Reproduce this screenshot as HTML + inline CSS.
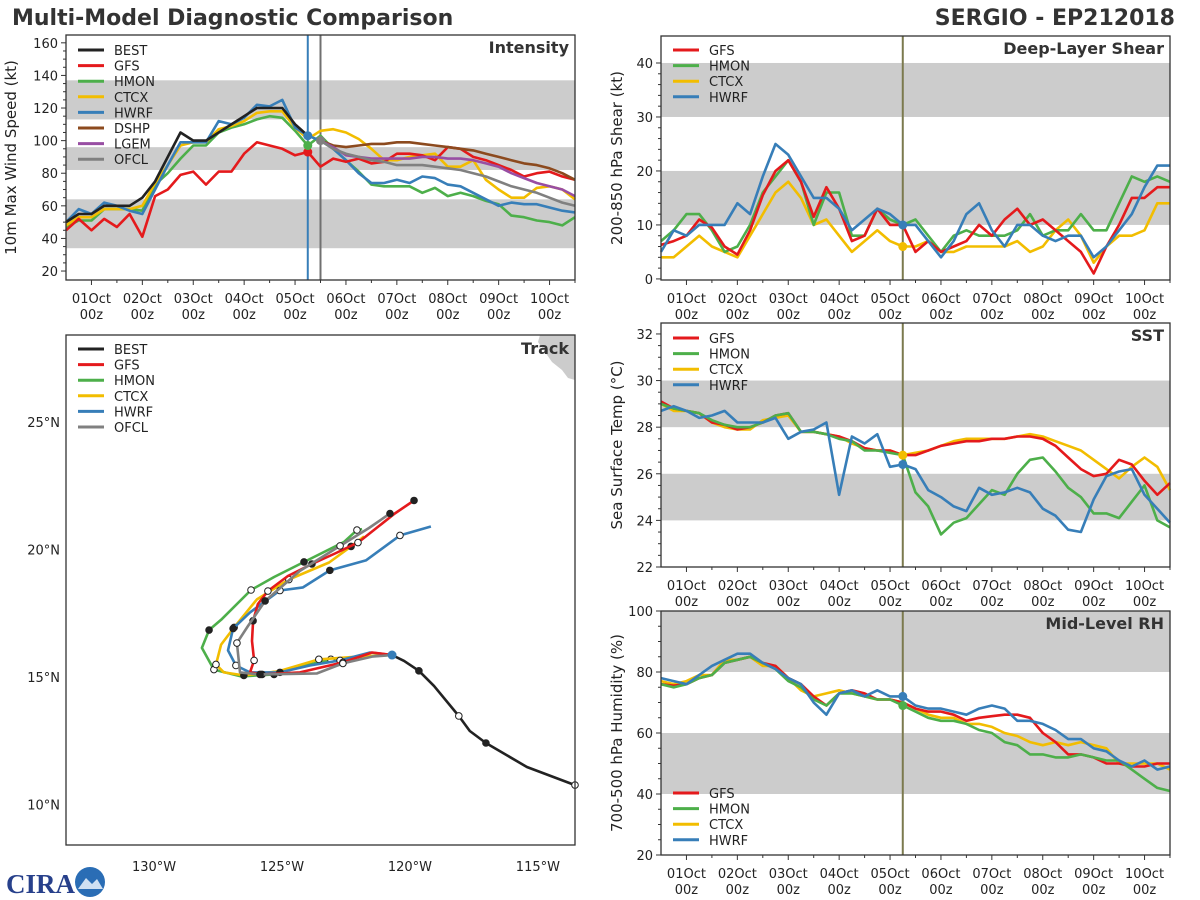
<!DOCTYPE html>
<html><head><meta charset="utf-8">
<style>
html,body{margin:0;padding:0;background:#fff;}
svg{display:block;font-family:"DejaVu Sans","Liberation Sans",sans-serif;}
</style></head>
<body>
<svg id="chart" width="1200" height="900" viewBox="0 0 1200 900" xmlns="http://www.w3.org/2000/svg">
<text x="12" y="25" font-size="22" font-weight="bold" fill="#333">Multi-Model Diagnostic Comparison</text>
<text x="1175" y="25" font-size="22" font-weight="bold" fill="#333" text-anchor="end">SERGIO - EP212018</text>
<g>
<text x="6" y="893" font-size="27" font-weight="bold" fill="#27408b" font-family="Liberation Serif, serif">CIRA</text>
<circle cx="90" cy="882" r="15" fill="#2a6db5"/>
<path d="M78,889 L86,878 L92,884 L97,879 L103,889 Z" fill="#cfe0f2"/>
</g>
<g id="plots"></g>
</svg>
<script>
// ---------- data ----------
const dayLabels = ["01Oct","02Oct","03Oct","04Oct","05Oct","06Oct","07Oct","08Oct","09Oct","10Oct"];
const intensityBest = [50,55,55,60,60,60,65,75,90,105,100,100,105,110,115,120,120,120,110,103];
const intensityGFS = [45,52,45,52,47,55,41,66,70,79,81,73,81,81,92,99,97,95,91,93,84,89,87,89,86,87,92,92,91,88,96,95,90,88,85,82,78,80,81,78,76];
const intensityHMON = [47,51,51,58,58,58,57,73,80,89,97,97,105,108,110,113,115,114,106,97,103,95,88,81,73,72,72,72,68,71,66,68,66,63,61,54,53,51,50,48,53];
const intensityCTCX = [48,53,53,58,58,58,60,74,85,97,99,99,107,109,112,117,118,118,108,101,106,107,105,101,95,88,88,90,91,92,84,84,88,76,70,65,65,71,72,70,64];
const intensityHWRF = [50,58,55,62,60,57,55,70,85,99,99,99,112,110,114,122,121,125,108,103,100,95,88,80,74,74,76,74,78,77,73,72,68,64,60,62,61,61,59,57,56];
const intensityDSHP = [100,97,96,97,98,98,99,99,98,97,96,95,94,92,90,88,86,85,83,80,76];
const intensityLGEM = [100,96,91,90,89,89,89,89,90,90,89,89,88,86,84,80,77,74,72,70,66];
const intensityOFCL = [100,95,92,90,88,87,85,85,85,84,83,82,80,78,75,72,70,68,65,62,60];

const shearGFS = [6.3,7,8,11,9.5,6,4.5,9,15.5,20,22,18,11.5,17,13,7,8,13,10,10,5,7,5,6,7,10,8,11,13,10,11,9,7,5,1,6,10,15,15,17,17];
const shearHMON = [7,9,12,12,9,5,6,10,16,19,22,18,10,16,16,8,8,13,11,10,11,8,5,8,9,8,8,8,9,12,8,9,9,12,9,9,14,19,18,19,18];
const shearCTCX = [4,4,6,8,6,5,4,8,12,16,18,15,10,11,8,5,7,9,7,6,6,7,5,5,6,6,6,6,7,5,6,9,11,8,3,6,8,8,9,14,14];
const shearHWRF = [5,9,8,10,10,10,14,12,19,25,23,19,15,15,13,9,11,13,12,10,10,7,4,7,12,14,9,6,10,10,8,7,8,8,4,6,9,12,17,21,21];

const sstGFS = [29.1,28.8,28.7,28.6,28.2,28.1,27.9,28.0,28.2,28.5,28.6,27.8,27.8,27.7,27.6,27.4,27.1,27.0,27.0,26.8,26.8,27.0,27.2,27.3,27.4,27.4,27.5,27.5,27.6,27.6,27.5,27.2,26.7,26.2,25.9,26.0,26.6,26.4,25.7,25.1,25.6];
const sstHMON = [29.0,28.8,28.7,28.6,28.3,28.1,28.0,28.0,28.2,28.5,28.6,27.8,27.8,27.7,27.5,27.4,27.0,27.0,26.9,26.8,25.2,24.6,23.4,23.9,24.1,24.7,25.3,25.1,26.0,26.6,26.7,26.1,25.4,25.0,24.3,24.3,24.1,24.8,25.5,24.0,23.7];
const sstCTCX = [29.0,28.7,28.7,28.6,28.2,28.0,27.9,27.9,28.3,28.4,28.5,27.8,27.8,27.7,27.6,27.3,27.1,27.0,27.0,26.8,26.9,27.0,27.2,27.4,27.5,27.5,27.5,27.5,27.6,27.7,27.6,27.4,27.2,27.0,26.6,26.2,25.8,26.3,26.7,26.3,25.3];
const sstHWRF = [28.7,28.9,28.7,28.4,28.5,28.7,28.2,28.2,28.2,28.4,27.5,27.8,27.9,28.2,25.1,27.6,27.3,27.7,26.3,26.4,26.2,25.3,25.0,24.6,24.4,25.4,25.1,25.2,25.4,25.2,24.5,24.2,23.6,23.5,24.9,25.9,26.1,26.2,25.1,24.5,23.9];

const rhGFS = [76,75.5,76,78,79,83,84,85,83,82,78,76,72,69,73,74,73,71,71,70,68,67,67,66,64,65,65.5,66,66,65,60,57,53,53,52,50,50,49,49,50,50];
const rhHMON = [76,75,76,78,79,83,84,85,83,81,77,75,71,69,73,73,72,71,71,69,67,65,64,64,63,61,60,57,56,53,53,52,52,53,52,51,51,48,45,42,41];
const rhCTCX = [77,76,77,79,79,84,84,85,82,82,78,74,72,73,74,73,72,71,71,70,68,66,65,65,63,63,62,60,59,57,56,57,56,57,56,55,50,50,50,50,48];
const rhHWRF = [78,77,76,79,82,84,86,86,83,81,78,76,70,66,73,74,72,74,72,72,69,68,68,67,66,68,69,68,64,64,63,61,58,58,55,54,51,49,51,48,49];

const trackBestLon = [-113.55,-115.43,-117.03,-117.66,-118.09,-119.06,-119.65,-120.23,-120.70];
const trackBestLat = [10.76,11.47,12.41,12.88,13.47,14.65,15.24,15.63,15.86];
const trackGFSLon = [-120.70,-121.48,-122.62,-124.30,-125.78,-126.25,-126.09,-126.17,-126.13,-125.94,-125.55,-124.77,-123.83,-122.93,-122.03,-120.59,-119.84];
const trackGFSLat = [15.86,15.96,15.57,15.18,15.10,15.18,15.65,16.41,17.20,17.86,18.37,18.96,19.43,19.84,20.27,21.41,21.92];
const trackHMONLon = [-120.70,-121.80,-123.09,-124.26,-125.31,-126.60,-127.66,-128.13,-127.85,-127.38,-126.21,-125.31,-124.14,-122.58,-122.07,-121.87];
const trackHMONLat = [15.86,15.80,15.69,15.41,15.10,15.02,15.29,16.14,16.84,17.24,18.41,18.92,19.51,20.29,20.76,20.80];
const trackCTCXLon = [-120.70,-122.00,-123.56,-125.13,-126.49,-127.27,-127.58,-127.38,-126.87,-125.98,-124.73,-123.16,-122.30,-121.79];
const trackCTCXLat = [15.86,15.80,15.69,15.22,15.06,15.18,15.49,16.27,16.94,18.04,18.82,19.49,20.12,20.51];
const trackHWRFLon = [-120.70,-121.56,-122.73,-123.91,-125.08,-126.25,-126.80,-127.11,-126.91,-126.25,-125.08,-124.18,-123.13,-121.72,-120.39,-119.18];
const trackHWRFLat = [15.86,15.96,15.65,15.45,15.18,15.18,15.45,16.04,16.90,17.53,18.39,18.51,19.18,19.57,20.55,20.90];
const trackOFCLLon = [-120.70,-121.48,-122.62,-123.63,-125.86,-126.64,-126.76,-126.33,-125.66,-124.30,-122.73,-121.60,-120.78];
const trackOFCLLat = [15.86,15.80,15.53,15.14,15.10,15.18,16.33,17.00,17.98,19.16,20.14,20.84,21.41];
const mapLonTicks = [-130,-125,-120,-115];
const mapLatTicks = [10,15,20,25];

// ---------- helpers ----------
const NS = "http://www.w3.org/2000/svg";
const root = document.getElementById("plots");
function mk(tag, attrs, parent) {
  const e = document.createElementNS(NS, tag);
  for (const k in attrs) e.setAttribute(k, attrs[k]);
  (parent || root).appendChild(e);
  return e;
}
const C = {BEST:"#222222",GFS:"#e41a1c",HMON:"#4daf4a",CTCX:"#f2bd00",HWRF:"#377eb8",DSHP:"#8c4a1e",LGEM:"#984ea3",OFCL:"#808080"};
const DMIN = -0.5, DMAX = 9.5, STEP = 0.25;

function makePanel(p) {
  const g = mk("g", {});
  
  
  const xs = d => p.x0 + (d - DMIN) / (DMAX - DMIN) * (p.x1 - p.x0);
  const ys = v => p.y1 - (v - p.vmin) / (p.vmax - p.vmin) * (p.y1 - p.y0);
  p.xs = xs; p.ys = ys; p.g = g;
  for (const b of p.bands) {
    const r = mk("rect", {x:p.x0, y:ys(b[1]), width:p.x1-p.x0, height:ys(b[0])-ys(b[1]), fill:"#cccccc"}, g);
    
    
  }
  for (let v = p.tmin; v <= p.tmax + 1e-6; v += p.minor) {
    const isMajor = Math.abs(((v - p.tmin) / p.major) - Math.round((v - p.tmin) / p.major)) < 1e-6;
    const t = mk("line", {x1:p.x0-(isMajor?5:3), x2:p.x0, y1:ys(v), y2:ys(v), stroke:"#333", "stroke-width":1}, g);
    
    
    if (isMajor) {
      const l = mk("text", {x:p.x0-8, y:ys(v)+5, "font-size":13, "text-anchor":"end", fill:"#222"}, g);
      l.textContent = String(v);
      
      
    }
  }
  for (let d = 0; d <= 9.5; d += 0.5) {
    const maj = Number.isInteger(d);
    const t = mk("line", {x1:xs(d), x2:xs(d), y1:p.y1, y2:p.y1+(maj?5:3), stroke:"#333", "stroke-width":1}, g);
    
    
  }
  dayLabels.forEach((lab, i) => {
    const a = mk("text", {x:xs(i), y:p.y1+23, "font-size":13, "text-anchor":"middle", fill:"#222"}, g);
    a.textContent = lab;
    
    
    const b = mk("text", {x:xs(i), y:p.y1+39, "font-size":13, "text-anchor":"middle", fill:"#222"}, g);
    b.textContent = "00z";
    
    
  });
  const yl = mk("text", {x:0, y:0, "font-size":15, "text-anchor":"middle", fill:"#222", transform:`translate(${p.ylx},${(p.y0+p.y1)/2}) rotate(-90)`}, g);
  yl.textContent = p.ylabel;
  
  
  return p;
}
function series(p, vals, startIdx, color, name) {
  const pts = vals.map((v, i) => p.xs(DMIN + (startIdx + i) * STEP).toFixed(1) + "," + p.ys(v).toFixed(1)).join(" ");
  const pl = mk("polyline", {points:pts, fill:"none", stroke:color, "stroke-width":2.6, "stroke-linejoin":"round"}, p.g);
  
  
  return pl;
}
function dot(p, vals, idx, startIdx, color) {
  const c = mk("circle", {cx:p.xs(DMIN + (startIdx + idx) * STEP), cy:p.ys(vals[idx]), r:4.5, fill:color}, p.g);
  
  
}
function vline(p, day, color, w) {
  const l = mk("line", {x1:p.xs(day), x2:p.xs(day), y1:p.y0, y2:p.y1, stroke:color, "stroke-width":w}, p.g);
  
  
}
function frame(p) {
  const r = mk("rect", {x:p.x0, y:p.y0, width:p.x1-p.x0, height:p.y1-p.y0, fill:"none", stroke:"#333", "stroke-width":1.3}, p.g);
  
  
  const t = mk("text", {x:p.x1-6, y:p.y0+18, "font-size":16, "font-weight":"bold", "text-anchor":"end", fill:"#333"}, p.g);
  t.textContent = p.title;
  
  
}
function legend(g, items, x, y, dy) {
  items.forEach((it, i) => {
    const l = mk("line", {x1:x, x2:x+26, y1:y+i*dy, y2:y+i*dy, stroke:C[it], "stroke-width":3}, g);
    
    
    const t = mk("text", {x:x+36, y:y+i*dy+5, "font-size":13, fill:"#222"}, g);
    t.textContent = it;
    
    
  });
}

// ---------- intensity ----------
const pI = makePanel({name:"intensity-panel", title:"Intensity", x0:66, x1:575, y0:35, y1:280, vmin:14.5, vmax:164.8, bands:[[34,64],[82,96],[113,137]], tmin:20, tmax:160, major:20, minor:5, ylabel:"10m Max Wind Speed (kt)", ylx:16});
vline(pI, 4.25, "#377eb8", 2);
vline(pI, 4.5, "#707070", 2);
series(pI, intensityHMON, 0, C.HMON, "line-hmon");
series(pI, intensityCTCX, 0, C.CTCX, "line-ctcx");
series(pI, intensityHWRF, 0, C.HWRF, "line-hwrf");
series(pI, intensityGFS, 0, C.GFS, "line-gfs");
series(pI, intensityDSHP, 20, C.DSHP, "line-dshp");
series(pI, intensityLGEM, 20, C.LGEM, "line-lgem");
series(pI, intensityOFCL, 20, C.OFCL, "line-ofcl");
series(pI, intensityBest, 0, C.BEST, "line-best");
dot(pI, intensityGFS, 19, 0, C.GFS);
dot(pI, intensityHMON, 19, 0, C.HMON);
dot(pI, intensityHWRF, 19, 0, C.HWRF);
dot(pI, intensityOFCL, 0, 20, C.OFCL);
legend(pI.g, ["BEST","GFS","HMON","CTCX","HWRF","DSHP","LGEM","OFCL"], 78, 50, 15.6);
frame(pI);

// ---------- shear ----------
const pS = makePanel({name:"shear-panel", title:"Deep-Layer Shear", x0:661, x1:1170, y0:36, y1:280, vmin:-0.2, vmax:45, bands:[[10,20],[30,40]], tmin:0, tmax:40, major:10, minor:2, ylabel:"200-850 hPa Shear (kt)", ylx:622});
vline(pS, 4.25, "#7b7a4e", 2);
series(pS, shearCTCX, 0, C.CTCX, "line-ctcx");
series(pS, shearHMON, 0, C.HMON, "line-hmon");
series(pS, shearGFS, 0, C.GFS, "line-gfs");
series(pS, shearHWRF, 0, C.HWRF, "line-hwrf");
dot(pS, shearCTCX, 19, 0, C.CTCX);
dot(pS, shearHWRF, 19, 0, C.HWRF);
legend(pS.g, ["GFS","HMON","CTCX","HWRF"], 673, 50, 15.6);
frame(pS);

// ---------- SST ----------
const pT = makePanel({name:"sst-panel", title:"SST", x0:661, x1:1170, y0:323, y1:567, vmin:22, vmax:32.47, bands:[[24,26],[28,30]], tmin:22, tmax:32, major:2, minor:0.5, ylabel:"Sea Surface Temp (°C)", ylx:622});
vline(pT, 4.25, "#7b7a4e", 2);
series(pT, sstCTCX, 0, C.CTCX, "line-ctcx");
series(pT, sstGFS, 0, C.GFS, "line-gfs");
series(pT, sstHMON, 0, C.HMON, "line-hmon");
series(pT, sstHWRF, 0, C.HWRF, "line-hwrf");
dot(pT, sstCTCX, 19, 0, C.CTCX);
dot(pT, sstHWRF, 19, 0, C.HWRF);
legend(pT.g, ["GFS","HMON","CTCX","HWRF"], 673, 338, 15.6);
frame(pT);

// ---------- RH ----------
const pR = makePanel({name:"rh-panel", title:"Mid-Level RH", x0:661, x1:1170, y0:611, y1:855, vmin:20, vmax:100, bands:[[40,60],[80,100]], tmin:20, tmax:100, major:20, minor:5, ylabel:"700-500 hPa Humidity (%)", ylx:622});
vline(pR, 4.25, "#7b7a4e", 2);
series(pR, rhCTCX, 0, C.CTCX, "line-ctcx");
series(pR, rhGFS, 0, C.GFS, "line-gfs");
series(pR, rhHMON, 0, C.HMON, "line-hmon");
series(pR, rhHWRF, 0, C.HWRF, "line-hwrf");
dot(pR, rhHMON, 19, 0, C.HMON);
dot(pR, rhHWRF, 19, 0, C.HWRF);
legend(pR.g, ["GFS","HMON","CTCX","HWRF"], 673, 793, 15.6);
frame(pR);

// ---------- track ----------
const tg = mk("g", {});


const MX0 = 66, MX1 = 575, MY0 = 335, MY1 = 845;
const LON0 = -133.44, LON1 = -113.55, LAT0 = 8.41, LAT1 = 28.41;
const mx = lon => MX0 + (lon - LON0) / (LON1 - LON0) * (MX1 - MX0);
const my = lat => MY1 - (lat - LAT0) / (LAT1 - LAT0) * (MY1 - MY0);
const land = mk("path", {d:"M540,335 L575,335 L575,380 L568,378 L562,370 L552,362 L545,352 L538,342 Z", fill:"#cccccc"}, tg);


mapLonTicks.forEach(lon => {
  const t = mk("text", {x:mx(lon), y:871, "font-size":13, "text-anchor":"middle", fill:"#222"}, tg);
  t.textContent = Math.abs(lon) + "°W";
  
  
});
mapLatTicks.forEach(lat => {
  const t = mk("text", {x:60, y:my(lat)+5, "font-size":13, "text-anchor":"end", fill:"#222"}, tg);
  t.textContent = lat + "°N";
  
  
});
function track(lons, lats, color, name, markers) {
  const pts = lons.map((lo, i) => mx(lo).toFixed(1) + "," + my(lats[i]).toFixed(1)).join(" ");
  const pl = mk("polyline", {points:pts, fill:"none", stroke:color, "stroke-width":2.6, "stroke-linejoin":"round"}, tg);
  
  
  if (markers) {
    lons.forEach((lo, i) => {
      if (i === 0 || i % 2) return;
      const c = mk("circle", {cx:mx(lo), cy:my(lats[i]), r:3.3, fill:(i % 4 === 0) ? "#222" : "#fff", stroke:"#222", "stroke-width":1}, tg);
      
      
    });
  }
}
track(trackBestLon, trackBestLat, C.BEST, "track-best", false);
trackBestLon.forEach((lo, i) => {
  if (i % 2) return;
  const c = mk("circle", {cx:mx(lo), cy:my(trackBestLat[i]), r:3.3, fill:(i % 4 === 0) ? "#fff" : "#222", stroke:"#222", "stroke-width":1}, tg);
  
  
});
track(trackHMONLon, trackHMONLat, C.HMON, "track-hmon", true);
track(trackCTCXLon, trackCTCXLat, C.CTCX, "track-ctcx", true);
track(trackHWRFLon, trackHWRFLat, C.HWRF, "track-hwrf", true);
track(trackGFSLon, trackGFSLat, C.GFS, "track-gfs", true);
track(trackOFCLLon, trackOFCLLat, C.OFCL, "track-ofcl", true);
const st = mk("circle", {cx:mx(trackBestLon[trackBestLon.length-1]), cy:my(trackBestLat[trackBestLat.length-1]), r:4.5, fill:C.HWRF}, tg);


legend(tg, ["BEST","GFS","HMON","CTCX","HWRF","OFCL"], 78, 349, 15.6);
const tf = mk("rect", {x:MX0, y:MY0, width:MX1-MX0, height:MY1-MY0, fill:"none", stroke:"#333", "stroke-width":1.3}, tg);


const tt = mk("text", {x:MX1-6, y:MY0+19, "font-size":16, "font-weight":"bold", "text-anchor":"end", fill:"#333"}, tg);
tt.textContent = "Track";


</script>
</body></html>
